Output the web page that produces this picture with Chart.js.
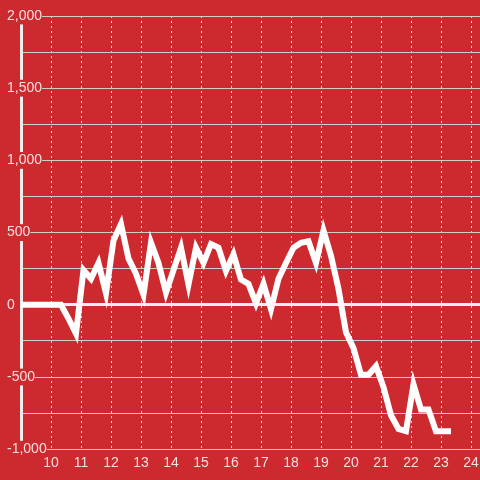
<!DOCTYPE html>
<html>
<head>
<meta charset="utf-8">
<script src="https://cdn.jsdelivr.net/npm/chart.js@4/dist/chart.umd.min.js"></script>
<style>
    html, body { margin: 0; padding: 0; background: #cc2a2f; }
    #wrap { width: 480px; height: 480px; }
</style>
</head>
<body>
<div id="wrap"><canvas id="lineChart"></canvas></div>
<script>
// hours of the day (x) and readings (y)
const hours = [9, 9.083, 9.333, 9.583, 9.833, 10.083, 10.333, 10.583, 10.833, 11.083,
    11.333, 11.583, 11.833, 12.083, 12.333, 12.583, 12.833, 13.083, 13.333, 13.583,
    13.833, 14.083, 14.333, 14.583, 14.833, 15.083, 15.333, 15.583, 15.833, 16.083,
    16.333, 16.583, 16.833, 17.083, 17.333, 17.583, 17.833, 18.083, 18.333, 18.583,
    18.833, 19.083, 19.333, 19.583, 19.833, 20.083, 20.333, 20.583, 20.833, 21.083,
    21.333, 21.583, 21.833, 22.083, 22.333, 22.583, 22.833, 23.083, 23.333];
const values = [0, 0, 0, 0, 0, 0, 0, -95, -200, 240,
    180, 290, 80, 445, 560, 320, 215, 70, 430, 290,
    85, 240, 395, 140, 395, 290, 420, 395, 235, 350,
    175, 145, 10, 145, -30, 180, 290, 395, 430, 440,
    290, 515, 340, 110, -190, -300, -485, -485, -425, -570,
    -765, -860, -875, -550, -725, -725, -875, -875, -875];

const hourTicks = [9, 10, 11, 12, 13, 14, 15, 16, 17, 18, 19, 20, 21, 22, 23, 24];
const yMin = -1000;
const yMax = 2000;
const yStep = 250;
const yLabelStep = 500;
const xMin = 9;
const xMax = 24.3;
const firstHourLabel = 10;

const FONT = '"Liberation Sans", Arial, sans-serif';
Chart.defaults.font.family = FONT;
Chart.defaults.font.size = 14;

const measure = document.createElement("canvas").getContext("2d");
measure.font = "14px " + FONT;

function isLabelled(v) {
    return v % yLabelStep === 0;
}

new Chart(document.getElementById("lineChart"), {
    type: "line",
    data: {
        datasets: [{
            data: hours.map((h, i) => ({ x: h, y: values[i] })),
            borderColor: "#ffffff",
            borderWidth: 6,
            pointRadius: 0,
            tension: 0,
            fill: false
        }]
    },
    options: {
        responsive: true,
        maintainAspectRatio: false,
        animation: false,
        layout: { padding: { top: 16, bottom: 2, left: 7, right: 0 } },
        plugins: { legend: { display: false }, tooltip: { enabled: false } },
        scales: {
            x: {
                type: "linear",
                min: xMin,
                max: xMax,
                afterBuildTicks: scale => {
                    scale.ticks = hourTicks.map(h => ({ value: h }));
                },
                afterFit: scale => {
                    scale.paddingLeft = 0;
                    scale.paddingRight = 0;
                },
                ticks: {
                    autoSkip: false,
                    maxRotation: 0,
                    padding: 6,
                    color: "rgba(255,255,255,0.85)",
                    callback: v => v >= firstHourLabel ? v : ""
                },
                grid: {
                    color: "#e2e2e2",
                    lineWidth: 1,
                    drawTicks: false
                },
                border: { display: false, dash: [2, 3] }
            },
            y: {
                min: yMin,
                max: yMax,
                afterFit: scale => { scale.width = 14; },
                ticks: {
                    stepSize: yStep,
                    mirror: true,
                    crossAlign: "near",
                    padding: -14,
                    color: "rgba(255,255,255,0.85)",
                    callback: v => isLabelled(v) ? v.toLocaleString("en-US") : "",
                    showLabelBackdrop: ctx => isLabelled(ctx.tick.value),
                    backdropColor: "#cc2a2f",
                    backdropPadding: ctx => {
                        const w = measure.measureText(ctx.tick.label || "").width;
                        return { top: -2, bottom: -2, left: 7, right: Math.max(2, 17 - w) };
                    }
                },
                grid: {
                    color: ctx => ctx.tick.value === 0 ? "#eeeeee" : "#cdcdcd",
                    lineWidth: ctx => ctx.tick.value === 0 ? 3 : 1,
                    drawTicks: false
                },
                border: { display: true, color: "#eeeeee", width: 3 }
            }
        }
    }
});
</script>
</body>
</html>
